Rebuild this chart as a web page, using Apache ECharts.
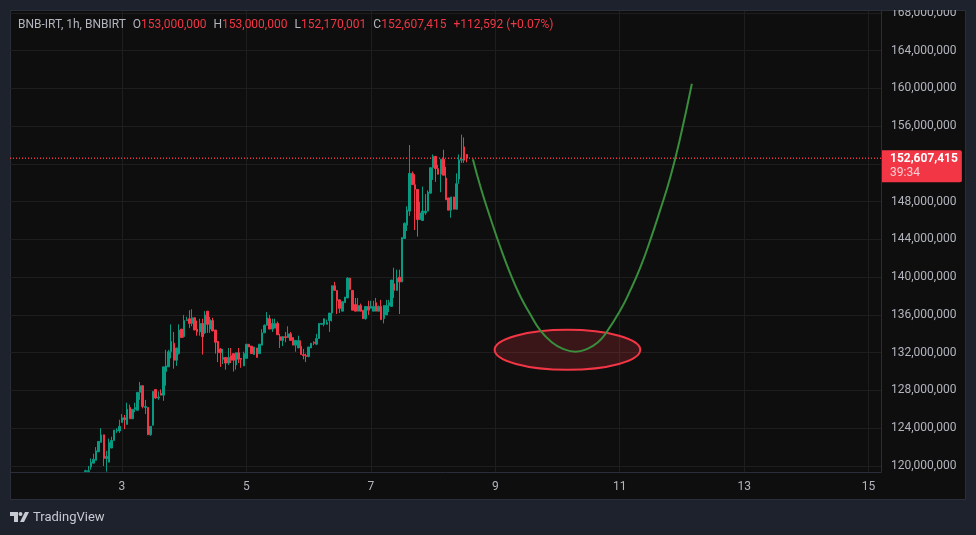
<!DOCTYPE html>
<html>
<head>
<meta charset="utf-8">
<title>BNB-IRT</title>
<style>
    html, body { margin: 0; padding: 0; width: 976px; height: 535px; background: #1e222d; overflow: hidden; }
    #panel { position: absolute; left: 10px; top: 10px; width: 954px; height: 488px; background: #0e0e0e; border: 1px solid #2a2e39; }
    #chart { position: absolute; left: 0; top: 0; width: 976px; height: 535px; }
</style>
<script src="https://cdn.jsdelivr.net/npm/echarts@6/dist/echarts.min.js"></script>
</head>
<body>
<div id="panel"></div>
<div id="chart"></div>
<script>
// prices are in millions of IRT, x is the day of the month
const firstCandleDay = 2 + 10 / 24;
const hoursPerDay = 24;

// open, close, low, high
const candleValues = [
    [119.4,119.5,119.4,119.6],[119.4,119.5,119.4,120.0],[119.9,120.4,119.6,120.8],[120.3,120.7,120.3,121.3],
    [120.6,121.6,120.6,122.0],[121.5,122.6,121.5,122.6],[122.5,123.3,122.5,124.0],[123.3,120.8,120.0,123.3],
    [120.8,121.0,119.4,121.6],[120.4,122.5,120.4,122.9],[121.9,122.7,121.9,123.1],[122.7,123.8,122.7,123.8],
    [123.7,123.8,123.5,124.0],[123.7,124.2,123.5,124.9],[124.6,125.1,124.6,125.5],[125.1,124.9,123.9,125.4],
    [124.4,126.0,124.4,126.7],[126.2,125.0,125.0,126.5],[125.0,126.0,125.0,126.0],[126.0,126.2,125.7,126.7],
    [125.9,127.8,125.9,127.8],[127.8,128.5,127.0,128.9],[128.5,126.3,126.1,128.5],[126.2,126.3,125.5,127.0],
    [126.2,123.3,123.3,126.2],[123.3,124.2,123.2,124.2],[124.3,127.9,124.3,127.9],[128.1,127.2,127.1,128.1],
    [127.2,127.3,127.0,127.9],[127.7,127.5,127.5,128.1],[127.5,130.5,126.9,130.5],[130.0,130.6,128.5,132.3],
    [130.5,132.1,130.5,132.3],[132.1,133.2,131.4,135.0],[133.0,131.2,130.3,134.2],[131.2,132.5,130.6,132.5],
    [131.9,134.4,131.8,135.0],[134.5,133.6,133.6,134.5],[133.7,135.4,133.6,136.0],[135.4,135.5,135.4,135.8],
    [135.6,135.1,134.6,136.5],[135.1,135.7,134.8,136.6],[135.7,134.4,134.4,135.7],[134.5,134.2,133.8,135.4],
    [134.2,135.1,133.8,135.6],[135.1,133.7,131.8,135.6],[134.1,136.0,134.0,136.4],[136.4,135.0,134.1,136.4],
    [134.5,135.5,134.1,135.8],[135.4,134.3,134.3,135.7],[134.4,133.1,131.9,134.4],[133.2,132.0,131.0,133.2],
    [132.4,132.0,130.5,132.5],[131.3,131.5,130.8,132.4],[131.5,130.9,130.2,131.5],[130.9,131.5,130.7,132.5],
    [131.7,131.2,130.9,132.5],[131.9,131.2,130.0,131.9],[130.7,132.0,130.2,132.0],[132.0,131.3,130.9,132.5],
    [131.4,131.3,130.4,131.4],[130.6,131.9,130.6,132.1],[131.4,132.9,131.4,132.9],[132.9,132.6,132.6,132.9],
    [132.7,131.9,131.9,132.7],[131.8,132.6,131.8,132.6],[132.5,131.5,131.5,132.5],[131.9,132.9,131.9,132.9],
    [132.8,134.1,132.8,134.5],[134.1,134.9,134.1,135.0],[134.9,135.7,134.9,136.3],[135.6,134.5,134.5,136.0],
    [134.5,135.1,134.2,135.6],[134.6,135.1,134.6,135.6],[135.1,133.9,133.9,135.3],[133.7,133.3,132.5,134.0],
    [133.3,133.7,132.7,133.7],[133.7,133.6,133.1,134.2],[133.6,134.0,133.6,134.8],[134.0,133.3,133.3,134.2],
    [133.6,132.8,132.8,133.6],[132.8,133.3,132.1,133.3],[132.5,133.3,132.5,133.8],[132.7,131.8,131.8,133.3],
    [131.8,131.7,131.3,132.4],[131.7,131.6,131.0,131.9],[131.6,132.6,131.5,132.6],[132.5,133.0,132.5,133.0],
    [133.1,133.0,132.8,133.2],[132.9,133.5,132.8,134.0],[133.5,135.1,133.5,135.1],[135.0,135.1,135.0,135.1],
    [135.0,135.6,134.8,135.6],[135.0,135.2,135.0,135.5],[135.4,136.2,134.2,136.2],[136.2,139.1,135.3,139.1],
    [139.1,138.6,138.6,139.5],[138.6,137.5,136.1,138.6],[137.6,136.7,136.2,137.6],[136.4,137.4,136.4,137.4],
    [137.3,137.9,137.3,137.9],[137.8,139.9,137.8,140.0],[139.9,138.7,138.7,139.9],[138.6,136.5,136.5,138.6],
    [137.1,136.4,136.4,137.8],[136.4,137.0,136.4,137.8],[137.0,136.4,136.4,137.2],[136.5,135.6,135.6,136.5],
    [135.6,136.9,135.5,136.9],[136.9,136.5,136.0,137.5],[136.7,136.9,136.7,137.5],[136.4,136.9,136.4,137.5],
    [137.3,136.4,136.4,137.8],[136.4,136.9,136.4,137.0],[136.9,135.5,135.5,137.6],[135.6,137.0,135.1,137.0],
    [136.0,137.0,136.0,137.6],[137.0,137.3,136.3,137.6],[136.9,139.7,136.9,139.7],[139.3,138.6,137.8,141.0],
    [138.6,139.9,138.6,140.8],[140.0,139.5,136.1,140.8],[139.5,144.2,139.5,144.2],[144.1,145.7,144.1,145.8],
    [145.5,147.1,144.9,147.5],[147.0,151.0,146.5,154.0],[151.0,149.8,149.8,151.2],[149.8,149.3,145.0,150.9],
    [149.3,146.1,144.3,149.3],[146.1,146.8,146.1,148.0],[146.0,147.0,146.0,149.6],[146.8,147.0,146.6,148.8],
    [147.0,149.0,147.0,149.2],[148.9,151.6,148.9,151.6],[151.6,152.8,150.3,153.0],[152.8,151.5,150.1,152.8],
    [151.5,150.9,150.9,151.9],[150.9,152.5,149.0,152.5],[152.5,150.8,150.8,153.5],[150.5,148.2,148.2,151.7],
    [148.4,147.1,147.1,148.4],[147.1,148.5,146.3,148.5],[148.5,147.2,147.2,148.5],[147.2,149.9,147.2,151.0],
    [150.4,152.4,149.9,153.0],[152.4,152.5,152.1,155.1],[153.8,152.4,152.1,154.8],[153.0,152.607,152.17,153.0]
];

const curveDays = [8.64, 8.77, 8.92, 9.08, 9.24, 9.40, 9.56, 9.73, 9.91, 10.09, 10.29, 10.48, 10.65, 10.77, 11.01, 11.17, 11.33, 11.49, 11.65, 11.81, 11.97, 12.16];
const curvePrices = [152.5, 149.4, 146.3, 143.2, 140.4, 138.0, 136.1, 134.3, 133.1, 132.4, 132.1, 132.4, 133.1, 134.0, 136.5, 138.6, 141.0, 143.9, 147.1, 150.5, 154.7, 160.5];

// centre day, centre price, half width in days, half height in price
const ellipseZone = [10.16, 132.3, 1.17, 2.12];

const dayTicks = [3, 5, 7, 9, 11, 13, 15];
const priceTicks = [120, 124, 128, 132, 136, 140, 144, 148, 152, 156, 160, 164, 168];
const axisMinDay = 1.2;
const axisMaxDay = 15.2;
const lastPrice = 152.607415;
const lastPriceText = '152,607,415';
const countdownText = '39:34';

const UP = '#089981';
const DOWN = '#f23645';
const TEXT = '#b2b5be';
const FONT = 'Roboto';

const chart = echarts.init(document.getElementById('chart'));

const candleData = candleValues.map((c, i) => [firstCandleDay + i / hoursPerDay, c[0], c[1], c[2], c[3]]);
const curveData = curveDays.map((d, i) => [d, curvePrices[i]]);

const headerText = '{t|BNB-IRT, 1h, BNBIRT}{g|}{t|O}{v|153,000,000}{g|}{t|H}{v|153,000,000}{g|}{t|L}{v|152,170,001}{g|}{t|C}{v|152,607,415}{g|}{v|+112,592 (+0.07%)}';

chart.setOption({
    animation: false,
    backgroundColor: 'transparent',
    textStyle: { fontFamily: FONT },
    title: {
        left: 18,
        top: 19,
        padding: 0,
        text: headerText,
        textStyle: {
            rich: {
                t: { color: TEXT, fontSize: 12, fontFamily: FONT, fontWeight: 'normal' },
                v: { color: DOWN, fontSize: 12, fontFamily: FONT, fontWeight: 'normal' },
                g: { width: 7, fontSize: 12 }
            }
        }
    },
    grid: { left: 10, top: 11, width: 871, height: 461, containLabel: false },
    xAxis: {
        type: 'value',
        min: axisMinDay,
        max: axisMaxDay,
        axisLine: { onZero: false, lineStyle: { color: '#2a2e39' } },
        axisTick: { show: false, customValues: dayTicks },
        axisLabel: { customValues: dayTicks, color: TEXT, fontSize: 12, fontFamily: FONT, margin: 9 },
        splitLine: { show: true, lineStyle: { color: '#1e1e1e', width: 1 } }
    },
    yAxis: {
        type: 'value',
        position: 'right',
        min: 119.36,
        max: 168.2,
        axisLine: { show: true, lineStyle: { color: '#2a2e39' } },
        axisTick: { show: false, customValues: priceTicks },
        axisLabel: {
            customValues: priceTicks,
            color: TEXT,
            fontSize: 12,
            fontFamily: FONT,
            margin: 10,
            formatter: v => Math.round(v * 1e6).toLocaleString('en-US')
        },
        splitLine: { show: true, lineStyle: { color: '#1e1e1e', width: 1 } }
    },
    series: [
        {
            type: 'custom',
            coordinateSystem: 'cartesian2d',
            data: [ellipseZone],
            encode: { x: 0, y: 1 },
            z: 3,
            renderItem: (params, api) => {
                const centre = api.coord([api.value(0), api.value(1)]);
                const corner = api.coord([api.value(0) + api.value(2), api.value(1) + api.value(3)]);
                const rx = corner[0] - centre[0];
                const ry = centre[1] - corner[1];
                return {
                    type: 'path',
                    shape: {
                        pathData: 'M0 1A1 1 0 1 1 2 1A1 1 0 1 1 0 1Z',
                        layout: 'cover',
                        x: centre[0] - rx,
                        y: centre[1] - ry,
                        width: rx * 2,
                        height: ry * 2
                    },
                    style: { fill: 'rgba(242,54,69,0.2)', stroke: DOWN, lineWidth: 2 }
                };
            }
        },
        {
            type: 'candlestick',
            data: candleData,
            barWidth: 2,
            z: 2,
            itemStyle: { color: UP, color0: DOWN, borderColor: UP, borderColor0: DOWN, borderWidth: 1 }
        },
        {
            type: 'line',
            data: curveData,
            smooth: 0.5,
            showSymbol: false,
            z: 4,
            lineStyle: { color: '#388e3c', width: 2 }
        },
        // last price line, dotted across the pane, with the tag on the price axis
        {
            type: 'line',
            data: [[axisMinDay, lastPrice], [axisMaxDay, lastPrice]],
            showSymbol: false,
            z: 5,
            lineStyle: { color: '#f7303f', type: [1, 2], width: 1.5 },
            endLabel: {
                show: true,
                distance: 1,
                offset: [0, 8],
                backgroundColor: DOWN,
                borderRadius: [0, 2, 2, 0],
                padding: [2, 4, 2, 8],
                formatter: () => `{a|${lastPriceText}}\n{b|${countdownText}}`,
                rich: {
                    a: { color: '#fff', fontSize: 12, fontWeight: 'bold', fontFamily: FONT, lineHeight: 14 },
                    b: { color: '#fbd0d4', fontSize: 12, fontFamily: FONT, lineHeight: 14 }
                }
            }
        }
    ],
    graphic: [
        // page strip on top, cuts the 168,000,000 label like the original
        { type: 'rect', z: 100, shape: { x: 0, y: 0, width: 976, height: 10 }, style: { fill: '#1e222d' } },
        // TradingView mark
        { type: 'polygon', z: 100, shape: { points: [[10, 512], [18, 512], [18, 522], [14, 522], [14, 516], [10, 516]] }, style: { fill: '#c8cad2' } },
        { type: 'circle', z: 100, shape: { cx: 20.5, cy: 514, r: 2 }, style: { fill: '#c8cad2' } },
        { type: 'polygon', z: 100, shape: { points: [[25, 512], [29, 512], [24, 522], [20, 522]] }, style: { fill: '#c8cad2' } },
        {
            type: 'text',
            z: 100,
            x: 33,
            y: 511,
            style: { text: 'TradingView', fill: '#c8cad2', font: '400 13px Roboto' }
        }
    ]
});
</script>
</body>
</html>
